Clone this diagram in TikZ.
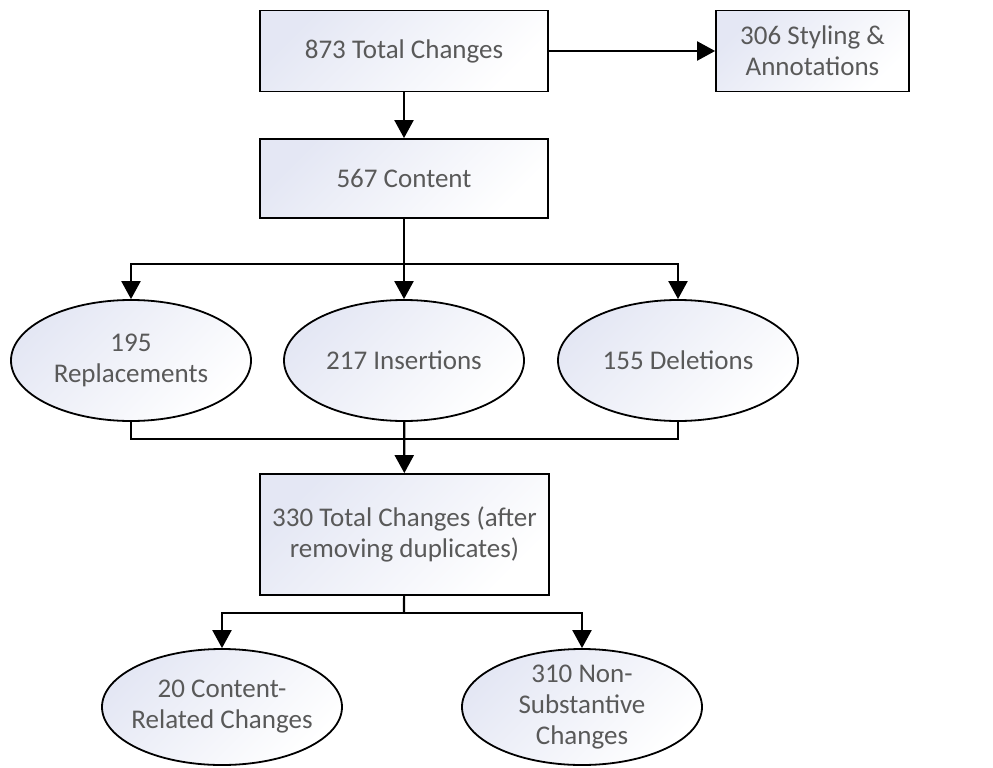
\documentclass[tikz,border=0pt]{standalone}
\usepackage{fontspec}
\setmainfont{Carlito}
\usetikzlibrary{shapes.geometric,arrows.meta}
\definecolor{shadecol}{RGB}{228,231,244}
\definecolor{txtcol}{RGB}{89,89,89}
\tikzset{
  shapebase/.style={draw=black, line width=1.8pt, text=txtcol, align=center,
    font=\fontsize{27}{31}\selectfont, inner sep=2pt,
    top color=shadecol, bottom color=white, shading angle=45},
  box/.style={shapebase, rectangle},
  % fixed-size ellipses: negative padding keeps the outline at its minimum size
  oval/.style={shapebase, ellipse, minimum width=240pt, inner xsep=-30pt, inner ysep=-12pt},
  link/.style={line width=2.2pt, draw=black},
  arr/.style={link, -{Triangle[length=18pt,width=19pt]}}
}
\begin{document}
\begin{tikzpicture}[x=1pt,y=-1pt]
  \useasboundingbox (0,0) rectangle (993,768);
  % rectangles
  \node[box, minimum width=288pt, minimum height=81pt] (total) at (404,51) {873 Total Changes};
  \node[box, minimum width=193pt, minimum height=81pt] (style) at (812.5,51) {306 Styling \&\\Annotations};
  \node[box, minimum width=288pt, minimum height=79pt] (content) at (404,178.5) {567 Content};
  \node[box, minimum width=289pt, minimum height=121pt] (after) at (404.5,534.5) {330 Total Changes (after\\removing duplicates)};
  % ellipses
  \node[oval, minimum height=121pt] (rep) at (131,360.5) {195\\Replacements};
  \node[oval, minimum height=121pt] (ins) at (404,360.5) {217 Insertions};
  \node[oval, minimum height=121pt] (del) at (678,360.5) {155 Deletions};
  \node[oval, minimum height=116pt] (cr) at (222,707) {20 Content-\\Related Changes};
  \node[oval, minimum height=116pt] (ns) at (582,707) {310 Non-\\Substantive\\Changes};
  % junction points
  \coordinate (j1) at (404,264);
  \coordinate (j2) at (404,439);
  \coordinate (j3) at (404,613);
  % connectors
  \draw[arr] (total) -- (style);
  \draw[arr] (total) -- (content);
  \draw[link] (content) -- (j1);
  \draw[arr] (j1) -| (rep);
  \draw[arr] (j1) -- (ins);
  \draw[arr] (j1) -| (del);
  \draw[link] (rep) |- (j2);
  \draw[link] (del) |- (j2);
  \draw[arr] (ins) -- (after);
  \draw[link] (after) -- (j3);
  \draw[arr] (j3) -| (cr);
  \draw[arr] (j3) -| (ns);
\end{tikzpicture}
\end{document}
